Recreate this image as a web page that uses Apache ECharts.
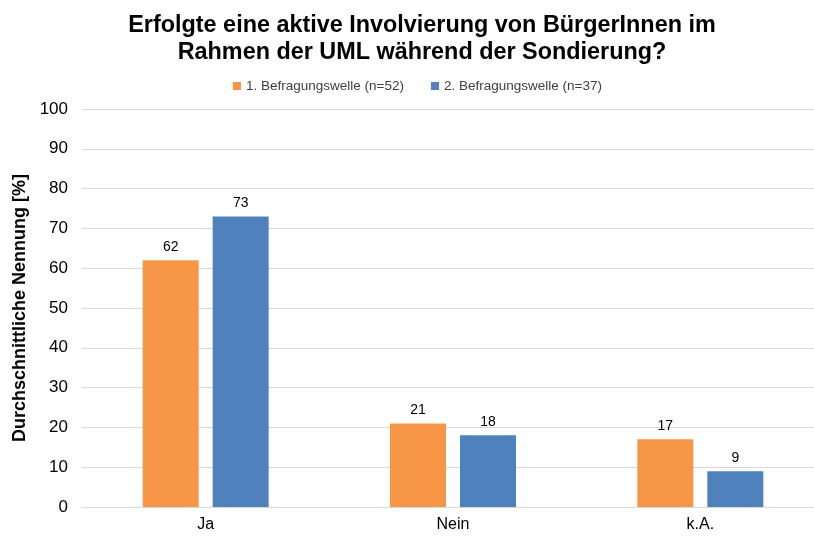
<!DOCTYPE html>
<html>
<head>
<meta charset="utf-8">
<script src="https://cdn.jsdelivr.net/npm/echarts@6/dist/echarts.min.js"></script>
<style>html,body{margin:0;padding:0;background:#fff;overflow:hidden;width:814px;height:536px}#c{width:824px;height:536px}</style>
</head>
<body>
<div id="c"></div>
<script>
var categories = ['Ja', 'Nein', 'k.A.'];
var seriesNames = ['1. Befragungswelle (n=52)', '2. Befragungswelle (n=37)'];
var welle1 = [62, 21, 17];
var welle2 = [73, 18, 9];
var yTicks = [0, 10, 20, 30, 40, 50, 60, 70, 80, 90, 100];
var titleText = 'Erfolgte eine aktive Involvierung von BürgerInnen im\nRahmen der UML während der Sondierung?';
var yName = 'Durchschnittliche Nennung [%]';

var chart = echarts.init(document.getElementById('c'));
var font = 'Liberation Sans, Arial, sans-serif';
chart.setOption({
  animation: false,
  textStyle: {fontFamily: font},
  title: {
    text: titleText, left: 417, textAlign: 'center', top: 7,
    textStyle: {fontSize: 23.4, fontWeight: 'bold', color: '#000', lineHeight: 27, fontFamily: font}
  },
  legend: {
    top: 74, left: 228, itemWidth: 8, itemHeight: 8, itemGap: 27,
    icon: 'rect',
    textStyle: {fontSize: 13.5, color: '#404040', fontFamily: font},
    data: seriesNames
  },
  grid: {left: 82, right: 0, top: 109, bottom: 29, containLabel: false},
  xAxis: {
    type: 'category', data: categories,
    axisLine: {lineStyle: {color: '#d9d9d9'}},
    axisTick: {show: false},
    axisLabel: {fontSize: 16, color: '#000', margin: 10, fontFamily: font}
  },
  yAxis: {
    type: 'value', min: yTicks[0], max: yTicks[yTicks.length - 1], interval: 10,
    name: yName, nameLocation: 'middle', nameGap: 52,
    nameTextStyle: {fontSize: 18, fontWeight: 'bold', color: '#000', fontFamily: font},
    axisLine: {show: false}, axisTick: {show: false},
    axisLabel: {fontSize: 17, color: '#000', margin: 14, fontFamily: font},
    splitLine: {lineStyle: {color: '#d9d9d9'}}
  },
  series: [
    {name: seriesNames[0], type: 'bar', data: welle1, barWidth: 56, barGap: '25%',
     itemStyle: {color: '#F79646'},
     label: {show: true, position: 'top', fontSize: 14, color: '#000', distance: 6, fontFamily: font}},
    {name: seriesNames[1], type: 'bar', data: welle2, barWidth: 56, barGap: '25%',
     itemStyle: {color: '#4F81BD'},
     label: {show: true, position: 'top', fontSize: 14, color: '#000', distance: 6, fontFamily: font}}
  ]
});
</script>
</body>
</html>
